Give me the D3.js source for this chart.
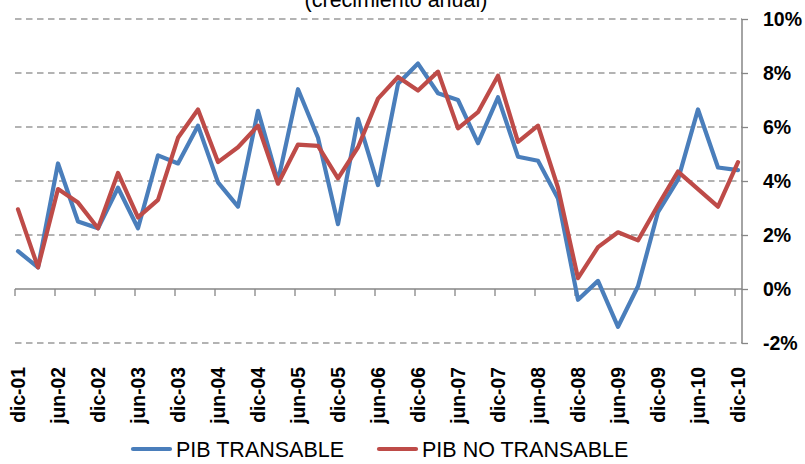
<!DOCTYPE html>
<html>
<head>
<meta charset="utf-8">
<script src="https://cdn.jsdelivr.net/npm/d3@7"></script>
<style>
  html, body { margin: 0; padding: 0; background: #ffffff; }
  svg { display: block; }
  .lbl { font-family: "Liberation Sans", Arial, sans-serif; }
</style>
</head>
<body>
<svg id="chart" width="805" height="464"></svg>
<script>
// Quarterly periods, Dec 2001 – Dec 2010
const quarters = [
  "dic-01",
  "mar-02","jun-02","sep-02","dic-02",
  "mar-03","jun-03","sep-03","dic-03",
  "mar-04","jun-04","sep-04","dic-04",
  "mar-05","jun-05","sep-05","dic-05",
  "mar-06","jun-06","sep-06","dic-06",
  "mar-07","jun-07","sep-07","dic-07",
  "mar-08","jun-08","sep-08","dic-08",
  "mar-09","jun-09","sep-09","dic-09",
  "mar-10","jun-10","sep-10","dic-10"
];

// Annual growth (%) of tradable GDP
const pibTransable = [
  1.4, 0.8, 4.65, 2.5, 2.25,
  3.75, 2.25, 4.95, 4.65,
  6.05, 3.95, 3.05, 6.6,
  4.0, 7.4, 5.6, 2.4,
  6.3, 3.85, 7.6, 8.35,
  7.25, 7.0, 5.4, 7.1,
  4.9, 4.75, 3.35, -0.4,
  0.3, -1.4, 0.1, 2.85,
  4.05, 6.65, 4.5, 4.4
];

// Annual growth (%) of non-tradable GDP
const pibNoTransable = [
  2.95, 0.8, 3.7, 3.2, 2.25,
  4.3, 2.65, 3.3, 5.6,
  6.65, 4.7, 5.25, 6.05,
  3.9, 5.35, 5.3, 4.1,
  5.25, 7.05, 7.85, 7.35,
  8.05, 5.95, 6.55, 7.9,
  5.45, 6.05, 3.75, 0.4,
  1.55, 2.1, 1.8, 3.1,
  4.35, 3.7, 3.05, 4.7
];

// Labels shown on the horizontal axis (every second quarter)
const xTickLabels = [
  "dic-01","jun-02","dic-02","jun-03","dic-03","jun-04","dic-04","jun-05","dic-05",
  "jun-06","dic-06","jun-07","dic-07","jun-08","dic-08","jun-09","dic-09","jun-10","dic-10"
];

// Values on the right-hand axis
const yTickValues = [-2, 0, 2, 4, 6, 8, 10];

const seriesNames = ["PIB TRANSABLE", "PIB NO TRANSABLE"];
const seriesColors = ["#4a7ebb", "#be4b48"];

const svg = d3.select("#chart");

const plot = { left: 15, right: 742, top: 19, bottom: 343 };

const x = d3.scalePoint().domain(quarters).range([18, 738]);
const y = d3.scaleLinear().domain([-2, 10]).range([plot.bottom, plot.top]);

// Title (partly above the visible area)
svg.append("text")
  .attr("class", "lbl")
  .attr("x", 396)
  .attr("y", 7)
  .attr("text-anchor", "middle")
  .attr("font-size", 21.5)
  .attr("fill", "#000")
  .text("(crecimiento anual)");

// Dashed horizontal gridlines
svg.append("g")
  .selectAll("line")
  .data(yTickValues.filter(v => v !== 0))
  .join("line")
  .attr("x1", plot.left)
  .attr("x2", plot.right)
  .attr("y1", d => y(d))
  .attr("y2", d => y(d))
  .attr("stroke", "#9a9a9a")
  .attr("stroke-width", 1.3)
  .attr("stroke-dasharray", "6.5,4.5");

// Right-hand vertical axis
const yAxis = d3.axisRight(y)
  .tickValues(yTickValues)
  .tickSize(6)
  .tickPadding(15)
  .tickFormat(d => d + "%");

const gy = svg.append("g")
  .attr("transform", `translate(${plot.right},0)`)
  .call(yAxis);
gy.select(".domain")
  .attr("d", `M0,${plot.top}V${plot.bottom}`)
  .attr("stroke", "#868686")
  .attr("stroke-width", 1.5);
gy.selectAll(".tick line").attr("stroke", "#868686").attr("stroke-width", 1.3);
gy.selectAll(".tick text")
  .attr("class", "lbl")
  .attr("font-size", 19.5)
  .attr("font-weight", "bold")
  .attr("fill", "#000");

// Horizontal axis along the zero line
svg.append("line")
  .attr("x1", plot.left)
  .attr("x2", plot.right)
  .attr("y1", y(0))
  .attr("y2", y(0))
  .attr("stroke", "#868686")
  .attr("stroke-width", 1.5);

svg.append("g")
  .selectAll("line")
  .data(xTickLabels)
  .join("line")
  .attr("x1", d => x(d) - 3)
  .attr("x2", d => x(d) - 3)
  .attr("y1", y(0))
  .attr("y2", y(0) + 7)
  .attr("stroke", "#868686")
  .attr("stroke-width", 1.3);

// Rotated category labels below the plot
svg.append("g")
  .selectAll("text")
  .data(xTickLabels)
  .join("text")
  .attr("class", "lbl")
  .attr("transform", d => `translate(${x(d)},367) rotate(-90)`)
  .attr("dy", "0.36em")
  .attr("text-anchor", "end")
  .attr("font-size", 19.3)
  .attr("font-weight", "bold")
  .attr("fill", "#000")
  .text(d => d);

// Series lines
const line = d3.line()
  .x((d, i) => x(quarters[i]))
  .y(d => y(d));

[pibTransable, pibNoTransable].forEach((vals, k) => {
  svg.append("path")
    .datum(vals)
    .attr("d", line)
    .attr("fill", "none")
    .attr("stroke", seriesColors[k])
    .attr("stroke-width", 4.2)
    .attr("stroke-linejoin", "round")
    .attr("stroke-linecap", "round");
});

// Legend
const legendItems = [
  { x: 133, name: seriesNames[0], color: seriesColors[0] },
  { x: 379, name: seriesNames[1], color: seriesColors[1] }
];
const lg = svg.append("g").selectAll("g").data(legendItems).join("g")
  .attr("transform", d => `translate(${d.x},449)`);
lg.append("line")
  .attr("x1", 0).attr("x2", 37)
  .attr("stroke", d => d.color)
  .attr("stroke-width", 4.2)
  .attr("stroke-linecap", "round");
lg.append("text")
  .attr("class", "lbl")
  .attr("x", 43)
  .attr("dy", "0.36em")
  .attr("font-size", 21.5)
  .attr("fill", "#000")
  .text(d => d.name);
</script>
</body>
</html>
